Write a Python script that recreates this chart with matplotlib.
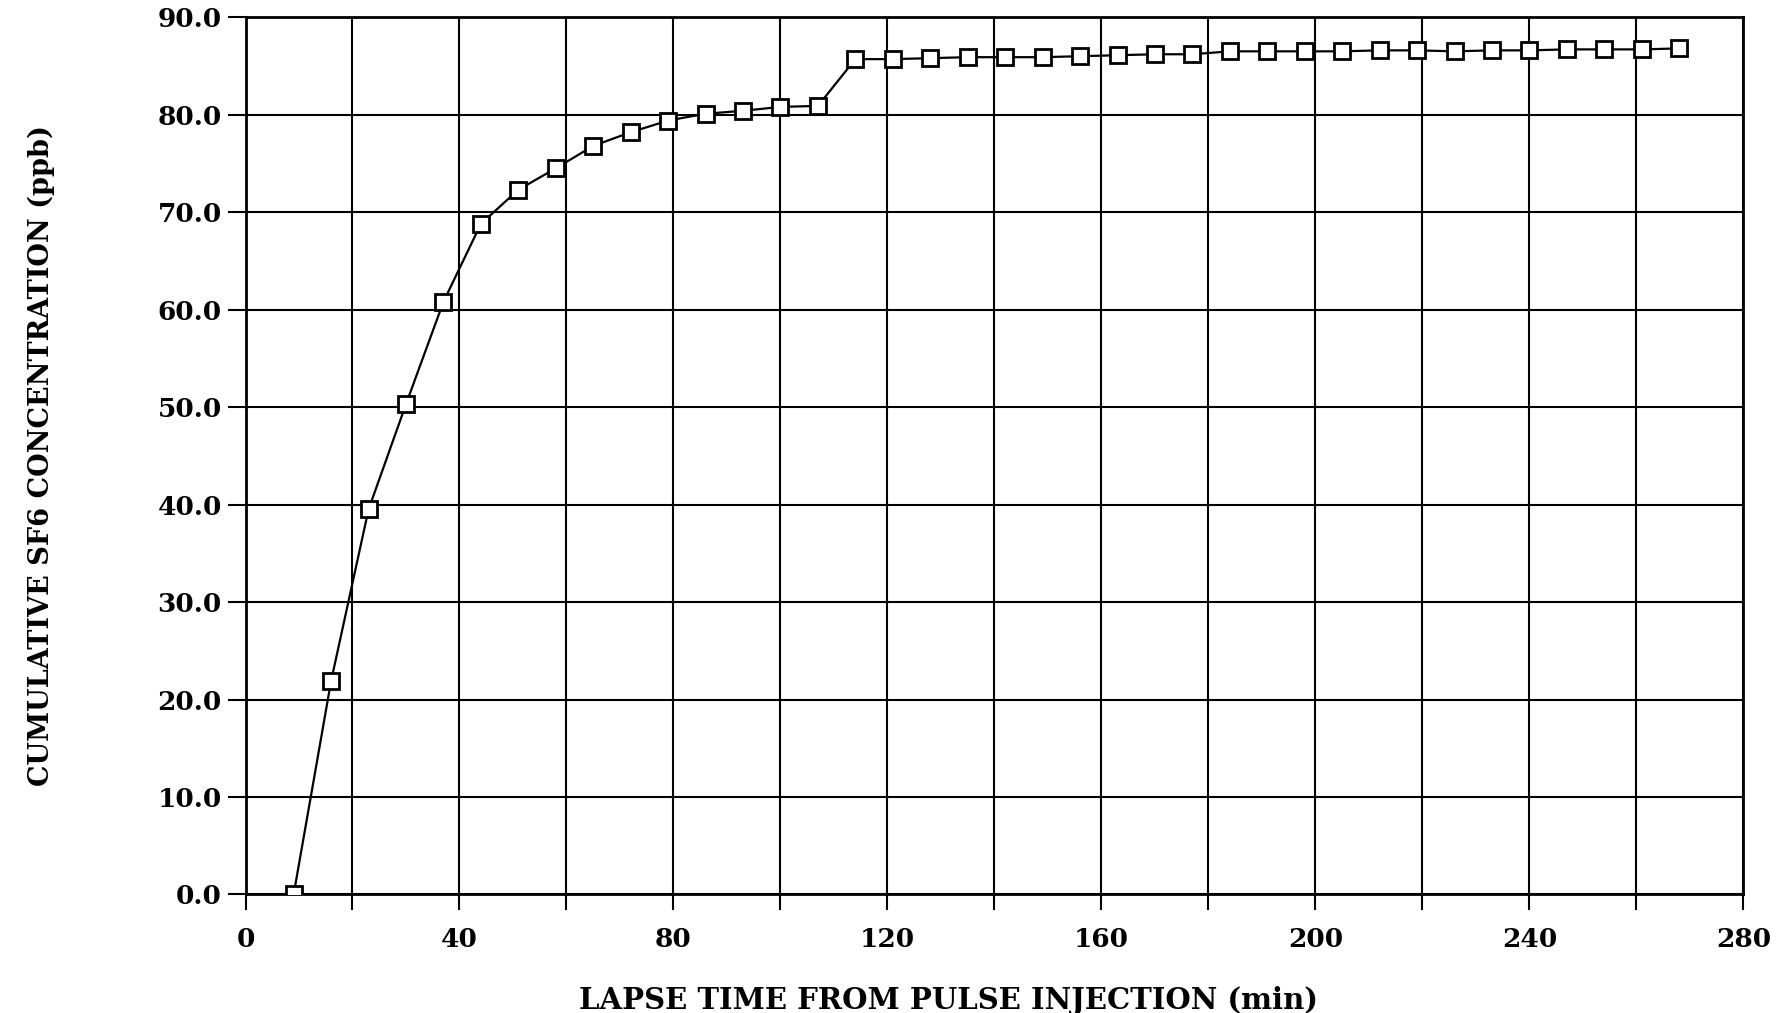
import matplotlib.pyplot as plt

# =====================================================
# DATA
# =====================================================

lapse_min = [
    9, 16, 23, 30, 37, 44, 51, 58, 65, 72,
    79, 86, 93, 100, 107, 114, 121, 128, 135, 142,
    149, 156, 163, 170, 177, 184, 191, 198, 205, 212,
    219, 226, 233, 240, 247, 254, 261, 268,
]

sf6_ppb = [
    0.0, 21.9, 39.5, 50.3, 60.8, 68.8, 72.3, 74.5, 76.8, 78.2,
    79.4, 80.1, 80.4, 80.8, 80.9, 85.7, 85.7, 85.8, 85.9, 85.9,
    85.9, 86.0, 86.1, 86.2, 86.2, 86.5, 86.5, 86.5, 86.5, 86.6,
    86.6, 86.5, 86.6, 86.6, 86.7, 86.7, 86.7, 86.8,
]

x_ticks = [0, 40, 80, 120, 160, 200, 240, 280]
y_ticks = [0, 10, 20, 30, 40, 50, 60, 70, 80, 90]

X_LABEL = "LAPSE TIME FROM PULSE INJECTION (min)"
Y_LABEL = "CUMULATIVE SF6 CONCENTRATION (ppb)"

# =====================================================
# PLOT
# =====================================================

plt.rcParams["font.family"] = ["DejaVu Serif"]
plt.rcParams["font.weight"] = "bold"

fig = plt.figure(figsize=(17.79, 10.13), dpi=100)
ax = fig.add_axes([0.138, 0.117, 0.842, 0.866])

ax.plot(
    lapse_min,
    sf6_ppb,
    color="black",
    linewidth=1.6,
    marker="s",
    markersize=11.5,
    markerfacecolor="white",
    markeredgecolor="black",
    markeredgewidth=2,
    zorder=3,
)

ax.set_xlim(0, 280)
ax.set_ylim(0, 90)

# grid every 20 min, labels only every 40
ax.set_xticks(list(range(0, 281, 20)))
ax.set_xticklabels(
    [str(v) if v in x_ticks else "" for v in range(0, 281, 20)]
)
ax.set_yticks(y_ticks)
ax.set_yticklabels([f"{v:.1f}" for v in y_ticks])

ax.grid(True, color="black", linewidth=1.5)
ax.set_axisbelow(True)

for spine in ax.spines.values():
    spine.set_linewidth(2)

ax.tick_params(axis="both", direction="out", width=1.5,
               labelsize=19, color="black")
ax.tick_params(axis="x", length=11.5, pad=12)
ax.tick_params(axis="y", length=13, pad=4)

for lbl in ax.get_xticklabels() + ax.get_yticklabels():
    lbl.set_fontweight("bold")

ax.set_xlabel(X_LABEL, fontsize=21, fontweight="bold")
ax.xaxis.set_label_coords(0.469, -0.104)
ax.set_ylabel(Y_LABEL, fontsize=19.5, fontweight="bold", labelpad=74)

fig.savefig("out.png", dpi=100)
plt.close(fig)
